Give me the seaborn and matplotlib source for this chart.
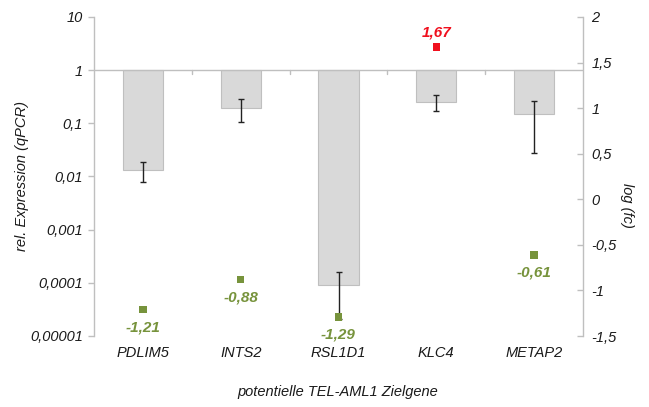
import numpy as np
import pandas as pd
import matplotlib
matplotlib.use("Agg")
import matplotlib.pyplot as plt
import seaborn as sns

# ---- data ----
genes = ["PDLIM5", "INTS2", "RSL1D1", "KLC4", "METAP2"]
rel_expr = [0.0135, 0.198, 0.000091, 0.257, 0.148]
expr_err = [0.0055, 0.094, 0.00007, 0.09, 0.12]
log_fc = [-1.21, -0.88, -1.29, 1.67, -0.61]

left_ticks = [0.00001, 0.0001, 0.001, 0.01, 0.1, 1, 10]
left_labels = ["0,00001", "0,0001", "0,001", "0,01", "0,1", "1", "10"]
right_ticks = [-1.5, -1, -0.5, 0, 0.5, 1, 1.5, 2]
right_labels = ["-1,5", "-1", "-0,5", "0", "0,5", "1", "1,5", "2"]

GREEN = "#77933C"
RED = "#F0101E"
GRAY = "#BFBFBF"
TXT = "#1a1a1a"
FS = 10.5

sns.set_theme(style="white")
plt.rcParams["font.family"] = ["Liberation Sans", "DejaVu Sans"]

fig = plt.figure(figsize=(6.49, 4.07), dpi=100)
ax = fig.add_axes([94 / 649, 1 - 336 / 407, (583 - 94) / 649, (336 - 17) / 407])

expr = np.array(rel_expr)
err = np.array(expr_err)
df = pd.DataFrame({"gene": genes, "log_expr": np.log10(expr)})

sns.barplot(data=df, x="gene", y="log_expr", order=genes, color="#D9D9D9",
            saturation=1, width=0.41, edgecolor=GRAY, linewidth=0.8,
            errorbar=None, ax=ax)

lower = np.log10(expr) - np.log10(expr - err)
upper = np.log10(expr + err) - np.log10(expr)
ax.errorbar(np.arange(len(genes)), np.log10(expr), yerr=[lower, upper],
            fmt="none", ecolor="#222222", elinewidth=1, capsize=2.2,
            capthick=1, zorder=3)

ax.set_xlim(-0.5, len(genes) - 0.5)
ax.set_ylim(np.log10(left_ticks[0]), np.log10(left_ticks[-1]))
ax.axhline(0, color=GRAY, lw=1, zorder=1)
# category separator ticks on the axis at 1
for b in np.arange(0.5, len(genes) - 0.5, 1.0):
    ax.plot([b, b], [0, -0.075], color=GRAY, lw=1, zorder=1)

ax.set_yticks(np.log10(left_ticks))
ax.set_yticklabels(left_labels, fontstyle="italic", fontsize=FS, color=TXT)
ax.set_xticks(np.arange(len(genes)))
ax.set_xticklabels(genes, fontstyle="italic", fontsize=FS, color=TXT)
ax.tick_params(axis="y", direction="out", length=4, width=1, color=GRAY, pad=4, left=True)
ax.tick_params(axis="x", length=0, pad=7)
for s in ["top", "right", "bottom"]:
    ax.spines[s].set_visible(False)
ax.spines["left"].set_color(GRAY)
ax.spines["left"].set_linewidth(1)
ax.set_xlabel("")
ax.set_ylabel("")

# secondary axis: log fold change
ax2 = ax.twinx()
sdf = pd.DataFrame({"pos": np.arange(len(genes)), "log_fc": log_fc,
                    "dir": ["up" if v > 0 else "down" for v in log_fc]})
sns.scatterplot(data=sdf, x="pos", y="log_fc", hue="dir",
                palette={"up": RED, "down": GREEN}, marker="s", s=28,
                linewidth=0, legend=False, ax=ax2, zorder=4)
ax2.set_ylim(right_ticks[0], right_ticks[-1])
ax2.set_xlim(-0.5, len(genes) - 0.5)
ax2.set_yticks(right_ticks)
ax2.set_yticklabels(right_labels, fontstyle="italic", fontsize=FS, color=TXT)
ax2.tick_params(axis="y", direction="in", length=4, width=1, color=GRAY, pad=6, right=True)
for s in ["top", "left", "bottom"]:
    ax2.spines[s].set_visible(False)
ax2.spines["right"].set_color(GRAY)
ax2.spines["right"].set_linewidth(1)
ax2.set_xlabel("")
ax2.set_ylabel("")

for i, v in enumerate(log_fc):
    txt = f"{v:.2f}".replace(".", ",")
    col = RED if v > 0 else GREEN
    off = 10.5 if v > 0 else -13
    ax2.annotate(txt, (i, v), xytext=(0, off), textcoords="offset points",
                 ha="center", va="center", color=col, fontweight="bold",
                 fontstyle="italic", fontsize=FS + 0.5, zorder=5)

ax.set_xticks(np.arange(len(genes)))
ax.set_xticklabels(genes, fontstyle="italic", fontsize=FS, color=TXT)

fig.text(22 / 649, 1 - 176 / 407, "rel. Expression (qPCR)", rotation=90,
         ha="center", va="center", fontstyle="italic", fontsize=FS, color=TXT)
fig.text(627 / 649, 1 - 205 / 407, "log (fc)", rotation=270,
         ha="center", va="center", fontstyle="italic", fontsize=FS, color=TXT)
fig.text(338 / 649, 1 - 392 / 407, "potentielle TEL-AML1 Zielgene",
         ha="center", va="center", fontstyle="italic", fontsize=FS, color=TXT)

fig.savefig("out.png", dpi=100, facecolor="white")
